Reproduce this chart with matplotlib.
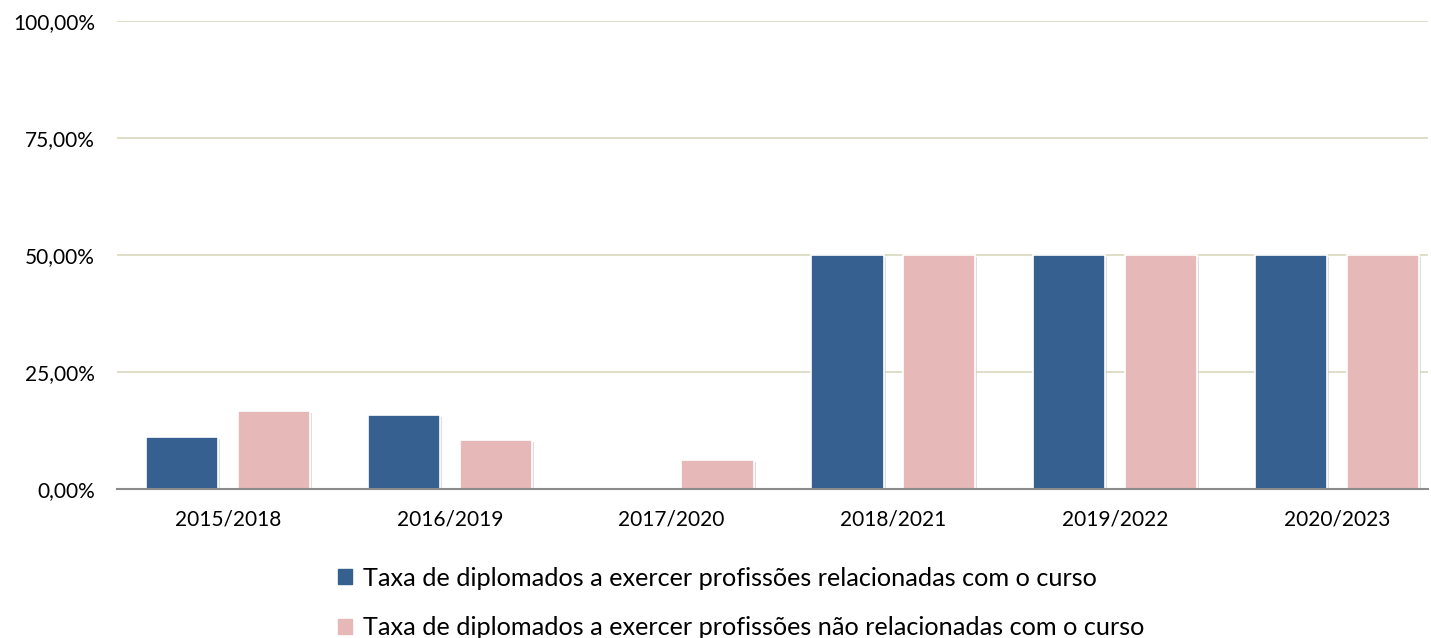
import matplotlib
matplotlib.use("Agg")
import matplotlib.pyplot as plt
import numpy as np
from matplotlib.ticker import FuncFormatter
import matplotlib.patheffects as pe

categories = ["2015/2018", "2016/2019", "2017/2020", "2018/2021", "2019/2022", "2020/2023"]
related = [11.11, 15.79, 0.0, 50.0, 50.0, 50.0]
unrelated = [16.67, 10.53, 6.25, 50.0, 50.0, 50.0]
labels = ["Taxa de diplomados a exercer profissões relacionadas com o curso",
          "Taxa de diplomados a exercer profissões não relacionadas com o curso"]
yticks = [0, 25, 50, 75, 100]

plt.rcParams['font.family'] = ['Lato', 'DejaVu Sans']

fig = plt.figure(figsize=(14.31, 6.38), dpi=100)
ax = fig.add_axes([117/1431, 1-489/638, (1428-117)/1431, (489-21)/638])

x = np.arange(len(categories))
w = 0.325
off = 0.207
shadow = [pe.SimplePatchShadow(offset=(1.5, -1.5), shadow_rgbFace='#c8c8c8', alpha=0.6), pe.Normal()]
b1 = ax.bar(x - off, related, w, color='#36608f', edgecolor='white', linewidth=1.2, label=labels[0], zorder=3)
b2 = ax.bar(x + off, unrelated, w, color='#e6b8b8', edgecolor='white', linewidth=1.2, label=labels[1], zorder=3)
for b in list(b1) + list(b2):
    if b.get_height() > 0:
        b.set_path_effects(shadow)

ax.set_xlim(-0.5, 5.41)
ax.set_ylim(0, 100)
ax.set_yticks(yticks)
ax.yaxis.set_major_formatter(FuncFormatter(lambda v, p: f"{v:.2f}".replace('.', ',') + "%"))
ax.set_xticks(x)
ax.set_xticklabels(categories)
ax.grid(axis='y', color='#dcdcc4', linewidth=1.3, zorder=0)
ax.set_axisbelow(True)
for s in ['top', 'right', 'left']:
    ax.spines[s].set_visible(False)
ax.spines['bottom'].set_color('#8c8c8c')
ax.spines['bottom'].set_linewidth(1.5)
ax.spines['bottom'].set_zorder(4)
ax.tick_params(axis='both', length=0, labelsize=15, colors='black')
ax.tick_params(axis='y', pad=16)
ax.tick_params(axis='x', pad=15)

handles = [plt.Rectangle((0, 0), 1, 1, color='#36608f'), plt.Rectangle((0, 0), 1, 1, color='#e6b8b8')]
fig.legend(handles, labels, loc='center', bbox_to_anchor=(741/1431, 1-603/638), ncol=1, frameon=False,
           fontsize=18.2, handlelength=0.55, handleheight=0.55, handletextpad=0.45, labelspacing=1.05)

fig.savefig("out.png", dpi=100)
